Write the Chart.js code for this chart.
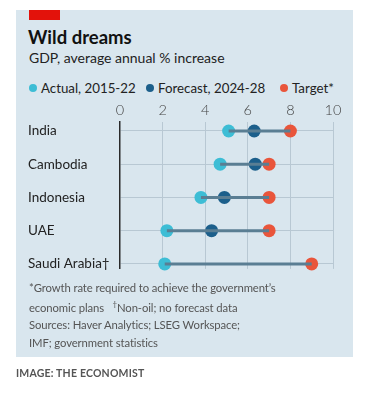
<!DOCTYPE html>
<html>
<head>
<meta charset="utf-8">
<script src="https://cdn.jsdelivr.net/npm/chart.js@4"></script>
<style>
  body { margin: 0; width: 368px; height: 396px; background: #fff; font-family: Lato, sans-serif; position: relative; overflow: hidden; }
  #panel { position: absolute; left: 16px; top: 10px; width: 337px; height: 347px; background: #d9e6ee; }
  #tag { position: absolute; left: 29px; top: 10px; width: 31px; height: 10px; background: #e3120b; }
  #title { position: absolute; left: 28px; top: 26px; font-size: 18.5px; font-weight: 700; color: #111; }
  #sub { position: absolute; left: 29px; top: 49px; font-size: 14px; color: #222; }
  #legend { position: absolute; left: 29px; top: 80px; font-size: 13.3px; color: #222; white-space: nowrap; }
  #legend span { position: absolute; top: 0; }
  #legend i { display: inline-block; width: 8px; height: 8px; border-radius: 50%; margin-right: 4px; vertical-align: 1px; }
  #chartBox { position: absolute; left: 16px; top: 100px; width: 337px; height: 180px; }
  #notes { position: absolute; left: 29px; top: 279px; font-size: 11.3px; line-height: 17.3px; color: #555; letter-spacing: -0.1px; }
  #credit { position: absolute; left: 16px; top: 367px; font-size: 10.5px; font-weight: 700; color: #555; letter-spacing: 0.2px; }
</style>
</head>
<body>
<div id="panel"></div>
<div id="tag"></div>
<div id="title">Wild dreams</div>
<div id="sub">GDP, average annual % increase</div>
<div id="legend">
  <span style="left:0"><i style="background:#3dbdd5"></i>Actual, 2015-22</span>
  <span style="left:117px"><i style="background:#1c5f8b"></i>Forecast, 2024-28</span>
  <span style="left:251px"><i style="background:#e9553b"></i>Target*</span>
</div>
<div id="chartBox"><canvas id="chart"></canvas></div>
<div id="notes">*Growth rate required to achieve the government’s<br>economic plans &nbsp;&nbsp;<sup style="font-size:8px">†</sup>Non-oil; no forecast data<br>Sources: Haver Analytics; LSEG Workspace;<br>IMF; government statistics</div>
<div id="credit">IMAGE: THE ECONOMIST</div>
<script>
const countries = ['India', 'Cambodia', 'Indonesia', 'UAE', 'Saudi Arabia†'];
const actual = [5.1, 4.7, 3.8, 2.2, 2.1];
const forecast = [6.3, 6.35, 4.9, 4.3, null];
const target = [8.0, 7.0, 7.0, 7.0, 9.0];
const xTicks = [0, 2, 4, 6, 8, 10];

const ACTUAL = '#3dbdd5';
const FORECAST = '#1c5f8b';
const TARGET = '#e9553b';

function dots(values, color) {
    return {
        type: 'line',
        data: values.map((v, i) => ({ x: v, y: i })).filter(p => p.x !== null),
        showLine: false,
        pointRadius: 6.5,
        pointHoverRadius: 6.5,
        pointBackgroundColor: color,
        pointBorderWidth: 0,
        clip: false
    };
}

// connector from actual to the furthest of forecast / target
const connectors = countries.map((c, i) => {
    const vals = [actual[i], forecast[i], target[i]].filter(v => v !== null);
    return {
        type: 'line',
        data: [{ x: Math.min(...vals), y: i }, { x: Math.max(...vals), y: i }],
        borderColor: '#5a7e93',
        borderWidth: 3,
        pointRadius: 0,
        clip: false
    };
});

const ctx = document.getElementById('chart').getContext('2d');
new Chart(ctx, {
    type: 'line',
    data: {
        datasets: [...connectors, dots(actual, ACTUAL), dots(forecast, FORECAST), dots(target, TARGET)]
    },
    options: {
        responsive: true,
        maintainAspectRatio: false,
        animation: false,
        layout: { padding: { left: 12, right: 20, top: 0, bottom: 8 } },
        plugins: { legend: { display: false }, tooltip: { enabled: false } },
        scales: {
            x: {
                type: 'linear',
                position: 'top',
                min: 0,
                max: 10,
                afterBuildTicks: s => { s.ticks = xTicks.map(v => ({ value: v })); },
                afterFit: s => { s.height = 22; },
                grid: {
                    drawTicks: false,
                    color: ctx => ctx.tick && ctx.tick.value === 0 ? 'rgba(0,0,0,0)' : '#b8c8d3',
                    lineWidth: 1
                },
                border: { display: false },
                ticks: { color: '#444', font: { family: 'Lato', size: 14.5, weight: 300 }, padding: 3 }
            },
            y: {
                type: 'linear',
                reverse: true,
                min: -0.27,
                max: 4.15,
                afterBuildTicks: s => { s.ticks = countries.map((c, i) => ({ value: i })); },
                afterFit: s => { s.width = 92; },
                grid: { drawTicks: false, color: '#b8c8d3', lineWidth: 1 },
                border: { color: '#2a2a2a', width: 1.5 },
                ticks: {
                    crossAlign: 'far',
                    color: '#222',
                    font: { family: 'Lato', size: 13.5 },
                    callback: v => countries[v]
                }
            }
        }
    }
});
</script>
</body>
</html>
